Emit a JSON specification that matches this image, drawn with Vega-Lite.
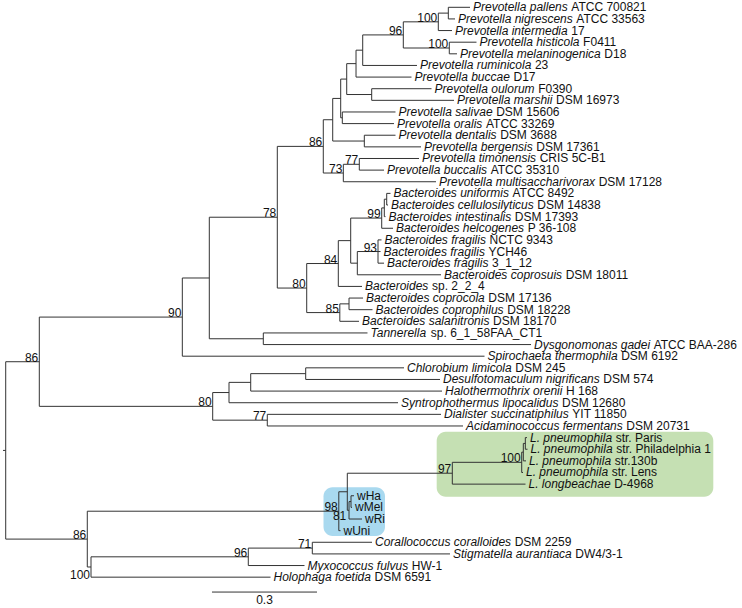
{
  "$schema": "https://vega.github.io/schema/vega-lite/v6.json",
  "width": 742,
  "height": 608,
  "padding": 0,
  "autosize": {"type": "none"},
  "background": "white",
  "config": {"view": {"stroke": null}, "text": {"font": "Liberation Sans"}},
  "datasets": {
    "nodes": [
      {"id": "root", "x": 0, "px": -0.0077, "y": 39.101, "y1": 31.475, "y2": 46.727},
      {"id": "A", "x": 0.096, "px": 0, "y": 31.475, "y1": 27.6375, "y2": 35.3125},
      {"id": "B", "x": 0.5046, "px": 0.096, "y": 27.6375, "y1": 24.275, "y2": 31},
      {"id": "C", "x": 0.5817, "px": 0.5046, "y": 24.275, "y1": 19.05, "y2": 29.5},
      {"id": "D", "x": 0.776, "px": 0.5817, "y": 19.05, "y1": 12.959, "y2": 25.141},
      {"id": "E", "x": 0.9074, "px": 0.776, "y": 12.959, "y1": 10.668, "y2": 15.25},
      {"id": "M", "x": 0.9343, "px": 0.9074, "y": 10.668, "y1": 8.8359, "y2": 12.5},
      {"id": "K", "x": 0.9571, "px": 0.9343, "y": 8.8359, "y1": 7.1719, "y2": 10.5},
      {"id": "I", "x": 0.9743, "px": 0.9571, "y": 7.1719, "y1": 5.8438, "y2": 8.5},
      {"id": "H", "x": 1.0009, "px": 0.9743, "y": 5.8438, "y1": 4.6875, "y2": 7},
      {"id": "G", "x": 1.02, "px": 1.0009, "y": 4.6875, "y1": 3.375, "y2": 6},
      {"id": "N96", "x": 1.136, "px": 1.02, "y": 3.375, "y1": 2.25, "y2": 4.5},
      {"id": "N100a", "x": 1.236, "px": 1.136, "y": 2.25, "y1": 1.5, "y2": 3},
      {"id": "pn", "x": 1.2646, "px": 1.236, "y": 1.5, "y1": 1, "y2": 2},
      {"id": "hm", "x": 1.2674, "px": 1.136, "y": 4.5, "y1": 4, "y2": 5},
      {"id": "J", "x": 1.0457, "px": 0.9743, "y": 8.5, "y1": 8, "y2": 9},
      {"id": "L", "x": 0.9617, "px": 0.9571, "y": 10.5, "y1": 10, "y2": 11},
      {"id": "N", "x": 1.0246, "px": 0.9343, "y": 12.5, "y1": 12, "y2": 13},
      {"id": "O", "x": 0.9646, "px": 0.9074, "y": 15.25, "y1": 14.5, "y2": 16},
      {"id": "N77", "x": 1.0103, "px": 0.9646, "y": 14.5, "y1": 14, "y2": 15},
      {"id": "P", "x": 0.86, "px": 0.776, "y": 25.141, "y1": 23.031, "y2": 27.25},
      {"id": "Q", "x": 0.9503, "px": 0.86, "y": 23.031, "y1": 21.0625, "y2": 25},
      {"id": "R", "x": 0.9857, "px": 0.9503, "y": 21.0625, "y1": 19.125, "y2": 23},
      {"id": "S", "x": 1.0743, "px": 0.9857, "y": 19.125, "y1": 18.25, "y2": 20},
      {"id": "U", "x": 1.0817, "px": 1.0743, "y": 18.25, "y1": 17.5, "y2": 19},
      {"id": "T", "x": 1.0886, "px": 1.0817, "y": 17.5, "y1": 17, "y2": 18},
      {"id": "V", "x": 1.0046, "px": 0.9857, "y": 23, "y1": 22, "y2": 24},
      {"id": "W", "x": 1.0637, "px": 1.0046, "y": 22, "y1": 21, "y2": 23},
      {"id": "Y", "x": 0.9546, "px": 0.86, "y": 27.25, "y1": 26.5, "y2": 28},
      {"id": "Z", "x": 0.9809, "px": 0.9546, "y": 26.5, "y1": 26, "y2": 27},
      {"id": "AA", "x": 0.736, "px": 0.5817, "y": 29.5, "y1": 29, "y2": 30},
      {"id": "BB", "x": 0.5914, "px": 0.096, "y": 35.3125, "y1": 34.125, "y2": 36.5},
      {"id": "CC", "x": 0.638, "px": 0.5914, "y": 34.125, "y1": 33.25, "y2": 35},
      {"id": "EE", "x": 0.7, "px": 0.638, "y": 33.25, "y1": 32.5, "y2": 34},
      {"id": "FF", "x": 0.8571, "px": 0.7, "y": 32.5, "y1": 32, "y2": 33},
      {"id": "DD", "x": 0.7474, "px": 0.5914, "y": 36.5, "y1": 36, "y2": 37},
      {"id": "L86", "x": 0.2331, "px": 0, "y": 46.727, "y1": 44.328, "y2": 49.125},
      {"id": "GG", "x": 0.9517, "px": 0.2331, "y": 44.328, "y1": 42.656, "y2": 46},
      {"id": "HH", "x": 0.976, "px": 0.9517, "y": 42.656, "y1": 41.0625, "y2": 44.25},
      {"id": "KK", "x": 1.276, "px": 0.976, "y": 41.0625, "y1": 40.125, "y2": 42},
      {"id": "LL", "x": 1.4743, "px": 1.276, "y": 40.125, "y1": 39.25, "y2": 41},
      {"id": "QQ", "x": 1.4789, "px": 1.4743, "y": 39.25, "y1": 38.5, "y2": 40},
      {"id": "PP", "x": 1.4846, "px": 1.4789, "y": 38.5, "y1": 38, "y2": 39},
      {"id": "II", "x": 0.9809, "px": 0.976, "y": 44.25, "y1": 43.5, "y2": 45},
      {"id": "JJ", "x": 0.9866, "px": 0.9809, "y": 43.5, "y1": 43, "y2": 44},
      {"id": "MM", "x": 0.2437, "px": 0.2331, "y": 49.125, "y1": 48.25, "y2": 50},
      {"id": "NN", "x": 0.6931, "px": 0.2437, "y": 48.25, "y1": 47.5, "y2": 49},
      {"id": "OO", "x": 0.876, "px": 0.6931, "y": 47.5, "y1": 47, "y2": 48}
    ],
    "leaves": [
      {"y": 1, "x": 1.3266, "px": 1.2646, "name": "Prevotella pallens", "strain": "ATCC 700821"},
      {"y": 2, "x": 1.2837, "px": 1.2646, "name": "Prevotella nigrescens", "strain": "ATCC 33563"},
      {"y": 3, "x": 1.2751, "px": 1.236, "name": "Prevotella intermedia", "strain": "17"},
      {"y": 4, "x": 1.3451, "px": 1.2674, "name": "Prevotella histicola", "strain": "F0411"},
      {"y": 5, "x": 1.2894, "px": 1.2674, "name": "Prevotella melaninogenica", "strain": "D18"},
      {"y": 6, "x": 1.1751, "px": 1.02, "name": "Prevotella ruminicola", "strain": "23"},
      {"y": 7, "x": 1.1594, "px": 1.0009, "name": "Prevotella buccae", "strain": "D17"},
      {"y": 8, "x": 1.2166, "px": 1.0457, "name": "Prevotella oulorum", "strain": "F0390"},
      {"y": 9, "x": 1.2809, "px": 1.0457, "name": "Prevotella marshii", "strain": "DSM 16973"},
      {"y": 10, "x": 1.1137, "px": 0.9617, "name": "Prevotella salivae", "strain": "DSM 15606"},
      {"y": 11, "x": 1.1094, "px": 0.9617, "name": "Prevotella oralis", "strain": "ATCC 33269"},
      {"y": 12, "x": 1.1137, "px": 1.0246, "name": "Prevotella dentalis", "strain": "DSM 3688"},
      {"y": 13, "x": 1.1866, "px": 1.0246, "name": "Prevotella bergensis", "strain": "DSM 17361"},
      {"y": 14, "x": 1.1809, "px": 1.0103, "name": "Prevotella timonensis", "strain": "CRIS 5C-B1"},
      {"y": 15, "x": 1.0809, "px": 1.0103, "name": "Prevotella buccalis", "strain": "ATCC 35310"},
      {"y": 16, "x": 1.2294, "px": 0.9646, "name": "Prevotella multisaccharivorax", "strain": "DSM 17128"},
      {"y": 17, "x": 1.0994, "px": 1.0886, "name": "Bacteroides uniformis", "strain": "ATCC 8492"},
      {"y": 18, "x": 1.0923, "px": 1.0886, "name": "Bacteroides cellulosilyticus", "strain": "DSM 14838"},
      {"y": 19, "x": 1.0851, "px": 1.0817, "name": "Bacteroides intestinalis", "strain": "DSM 17393"},
      {"y": 20, "x": 1.1066, "px": 1.0743, "name": "Bacteroides helcogenes", "strain": "P 36-108"},
      {"y": 21, "x": 1.0737, "px": 1.0637, "name": "Bacteroides fragilis", "strain": "NCTC 9343"},
      {"y": 22, "x": 1.0709, "px": 1.0637, "name": "Bacteroides fragilis", "strain": "YCH46"},
      {"y": 23, "x": 1.0809, "px": 1.0637, "name": "Bacteroides fragilis", "strain": "3_1_12"},
      {"y": 24, "x": 1.2437, "px": 1.0046, "name": "Bacteroides coprosuis", "strain": "DSM 18011"},
      {"y": 25, "x": 1.018, "px": 0.9503, "name": "Bacteroides", "strain": "sp. 2_2_4"},
      {"y": 26, "x": 1.0209, "px": 0.9809, "name": "Bacteroides coprocola", "strain": "DSM 17136"},
      {"y": 27, "x": 1.048, "px": 0.9809, "name": "Bacteroides coprophilus", "strain": "DSM 18228"},
      {"y": 28, "x": 1.0094, "px": 0.9546, "name": "Bacteroides salanitronis", "strain": "DSM 18170"},
      {"y": 29, "x": 1.0337, "px": 0.736, "name": "Tannerella", "strain": "sp. 6_1_58FAA_CT1"},
      {"y": 30, "x": 1.5009, "px": 0.736, "name": "Dysgonomonas gadei", "strain": "ATCC BAA-286"},
      {"y": 31, "x": 1.368, "px": 0.5046, "name": "Spirochaeta thermophila", "strain": "DSM 6192"},
      {"y": 32, "x": 1.138, "px": 0.8571, "name": "Chlorobium limicola", "strain": "DSM 245"},
      {"y": 33, "x": 1.2409, "px": 0.8571, "name": "Desulfotomaculum nigrificans", "strain": "DSM 574"},
      {"y": 34, "x": 1.2466, "px": 0.7, "name": "Halothermothrix orenii", "strain": "H 168"},
      {"y": 35, "x": 1.1209, "px": 0.638, "name": "Syntrophothermus lipocalidus", "strain": "DSM 12680"},
      {"y": 36, "x": 1.2437, "px": 0.7474, "name": "Dialister succinatiphilus", "strain": "YIT 11850"},
      {"y": 37, "x": 1.3066, "px": 0.7474, "name": "Acidaminococcus fermentans", "strain": "DSM 20731"},
      {"y": 38, "x": 1.4894, "px": 1.4846, "name": "L. pneumophila", "strain": "str. Paris"},
      {"y": 39, "x": 1.4909, "px": 1.4846, "name": "L. pneumophila", "strain": "str. Philadelphia 1"},
      {"y": 40, "x": 1.4866, "px": 1.4789, "name": "L. pneumophila", "strain": "str.130b"},
      {"y": 41, "x": 1.478, "px": 1.4743, "name": "L. pneumophila", "strain": "str. Lens"},
      {"y": 42, "x": 1.4851, "px": 1.276, "name": "L. longbeachae", "strain": "D-4968"},
      {"y": 43, "x": 0.9951, "px": 0.9866, "name": "", "strain": "wHa"},
      {"y": 44, "x": 0.9894, "px": 0.9866, "name": "", "strain": "wMel"},
      {"y": 45, "x": 1.018, "px": 0.9809, "name": "", "strain": "wRi"},
      {"y": 46, "x": 0.9566, "px": 0.9517, "name": "", "strain": "wUni"},
      {"y": 47, "x": 1.0466, "px": 0.876, "name": "Corallococcus coralloides", "strain": "DSM 2259"},
      {"y": 48, "x": 1.2694, "px": 0.876, "name": "Stigmatella aurantiaca", "strain": "DW4/3-1"},
      {"y": 49, "x": 0.8537, "px": 0.6931, "name": "Myxococcus fulvus", "strain": "HW-1"},
      {"y": 50, "x": 0.7566, "px": 0.2437, "name": "Holophaga foetida", "strain": "DSM 6591"}
    ],
    "boot": [
      {"x": 0.096, "y": 31.475, "s": "86"},
      {"x": 0.5046, "y": 27.6375, "s": "90"},
      {"x": 0.776, "y": 19.05, "s": "78"},
      {"x": 0.9074, "y": 12.959, "s": "86"},
      {"x": 1.136, "y": 3.375, "s": "96"},
      {"x": 1.236, "y": 2.25, "s": "100"},
      {"x": 1.2674, "y": 4.5, "s": "100"},
      {"x": 1.0103, "y": 14.5, "s": "77"},
      {"x": 0.9646, "y": 15.25, "s": "73"},
      {"x": 0.86, "y": 25.141, "s": "80"},
      {"x": 0.9503, "y": 23.031, "s": "84"},
      {"x": 1.0743, "y": 19.125, "s": "99"},
      {"x": 1.0637, "y": 22, "s": "93"},
      {"x": 0.9546, "y": 27.25, "s": "85"},
      {"x": 0.5914, "y": 35.3125, "s": "80"},
      {"x": 0.7474, "y": 36.5, "s": "77"},
      {"x": 0.2331, "y": 46.727, "s": "86"},
      {"x": 0.9517, "y": 44.328, "s": "98"},
      {"x": 0.976, "y": 45.08, "s": "81"},
      {"x": 1.276, "y": 41.0625, "s": "97"},
      {"x": 1.4743, "y": 40.125, "s": "100"},
      {"x": 0.6931, "y": 48.25, "s": "96"},
      {"x": 0.876, "y": 47.5, "s": "71"},
      {"x": 0.2437, "y": 50.15, "s": "100"}
    ],
    "clades": [
      {"clade": "Legionella", "x1": 1.2314, "x2": 2.0217, "y1": 37.49, "y2": 43.08},
      {"clade": "Wolbachia", "x1": 0.908, "x2": 1.0837, "y1": 42.27, "y2": 46.46}
    ],
    "scalebar": [
      {"x1": 0.5894, "x2": 0.8894, "xm": 0.7394, "y": 51.28, "ly": 51.53, "label": "0.3"}
    ]
  },
  "layer": [
    {
      "data": {"name": "clades"},
      "mark": {"type": "rect", "cornerRadius": 9},
      "encoding": {
        "x": {"field": "x1", "type": "quantitative", "scale": {"domain": [-0.0163, 2.1037], "nice": false, "zero": false}, "axis": null},
        "x2": {"field": "x2"},
        "y": {"field": "y1", "type": "quantitative", "scale": {"domain": [0.3723, 52.651], "reverse": true, "nice": false, "zero": false}, "axis": null},
        "y2": {"field": "y2"},
        "color": {"field": "clade", "type": "nominal", "scale": {"domain": ["Legionella", "Wolbachia"], "range": ["#c5e0b3", "#a9d9ef"]}, "legend": null}
      }
    },
    {
      "data": {"name": "nodes"},
      "mark": {"type": "rule", "color": "#333333", "strokeWidth": 1},
      "encoding": {
        "x": {"field": "px", "type": "quantitative", "scale": {"domain": [-0.0163, 2.1037], "nice": false, "zero": false}, "axis": null},
        "x2": {"field": "x"},
        "y": {"field": "y", "type": "quantitative", "scale": {"domain": [0.3723, 52.651], "reverse": true, "nice": false, "zero": false}, "axis": null}
      }
    },
    {
      "data": {"name": "nodes"},
      "mark": {"type": "rule", "color": "#333333", "strokeWidth": 1},
      "encoding": {
        "x": {"field": "x", "type": "quantitative", "scale": {"domain": [-0.0163, 2.1037], "nice": false, "zero": false}, "axis": null},
        "y": {"field": "y1", "type": "quantitative", "scale": {"domain": [0.3723, 52.651], "reverse": true, "nice": false, "zero": false}, "axis": null},
        "y2": {"field": "y2"}
      }
    },
    {
      "data": {"name": "leaves"},
      "mark": {"type": "rule", "color": "#333333", "strokeWidth": 1},
      "encoding": {
        "x": {"field": "px", "type": "quantitative", "scale": {"domain": [-0.0163, 2.1037], "nice": false, "zero": false}, "axis": null},
        "x2": {"field": "x"},
        "y": {"field": "y", "type": "quantitative", "scale": {"domain": [0.3723, 52.651], "reverse": true, "nice": false, "zero": false}, "axis": null}
      }
    },
    {
      "data": {"name": "leaves"},
      "mark": {"type": "text", "align": "left", "baseline": "middle", "dx": 3, "fontSize": 12, "fontStyle": "italic", "color": "#111111"},
      "encoding": {
        "x": {"field": "x", "type": "quantitative", "scale": {"domain": [-0.0163, 2.1037], "nice": false, "zero": false}, "axis": null},
        "y": {"field": "y", "type": "quantitative", "scale": {"domain": [0.3723, 52.651], "reverse": true, "nice": false, "zero": false}, "axis": null},
        "text": {"field": "name"}
      }
    },
    {
      "data": {"name": "leaves"},
      "mark": {"type": "text", "align": "left", "baseline": "middle", "fontSize": 12, "color": "#111111",
        "dx": {"expr": "datum.name == '' ? 3 : 6.6 + 0.012*(556*length(datum.name) - 334*length(replace(datum.name, regexp('[^ijl]','g'), '')) - 278*length(replace(datum.name, regexp('[^ft .I/]','g'), '')) - 223*length(replace(datum.name, regexp('[^r-]','g'), '')) - 56*length(replace(datum.name, regexp('[^cksvxyzJ]','g'), '')) + 277*length(replace(datum.name, regexp('[^mM]','g'), '')) + 166*length(replace(datum.name, regexp('[^wCDHNRU]','g'), '')) + 111*length(replace(datum.name, regexp('[^ABEKPSVXY]','g'), '')) + 222*length(replace(datum.name, regexp('[^GOQ]','g'), '')) + 55*length(replace(datum.name, regexp('[^FTZ]','g'), '')) + 388*length(replace(datum.name, regexp('[^W]','g'), '')))"}},
      "encoding": {
        "x": {"field": "x", "type": "quantitative", "scale": {"domain": [-0.0163, 2.1037], "nice": false, "zero": false}, "axis": null},
        "y": {"field": "y", "type": "quantitative", "scale": {"domain": [0.3723, 52.651], "reverse": true, "nice": false, "zero": false}, "axis": null},
        "text": {"field": "strain"}
      }
    },
    {
      "data": {"name": "boot"},
      "mark": {"type": "text", "align": "right", "baseline": "alphabetic", "dx": -1, "dy": 0, "fontSize": 12, "color": "#111111"},
      "encoding": {
        "x": {"field": "x", "type": "quantitative", "scale": {"domain": [-0.0163, 2.1037], "nice": false, "zero": false}, "axis": null},
        "y": {"field": "y", "type": "quantitative", "scale": {"domain": [0.3723, 52.651], "reverse": true, "nice": false, "zero": false}, "axis": null},
        "text": {"field": "s"}
      }
    },
    {
      "data": {"name": "scalebar"},
      "mark": {"type": "rule", "color": "#333333", "strokeWidth": 1},
      "encoding": {
        "x": {"field": "x1", "type": "quantitative", "scale": {"domain": [-0.0163, 2.1037], "nice": false, "zero": false}, "axis": null},
        "x2": {"field": "x2"},
        "y": {"field": "y", "type": "quantitative", "scale": {"domain": [0.3723, 52.651], "reverse": true, "nice": false, "zero": false}, "axis": null}
      }
    },
    {
      "data": {"name": "scalebar"},
      "mark": {"type": "text", "align": "center", "baseline": "top", "fontSize": 12, "color": "#111111"},
      "encoding": {
        "x": {"field": "xm", "type": "quantitative", "scale": {"domain": [-0.0163, 2.1037], "nice": false, "zero": false}, "axis": null},
        "y": {"field": "ly", "type": "quantitative", "scale": {"domain": [0.3723, 52.651], "reverse": true, "nice": false, "zero": false}, "axis": null},
        "text": {"field": "label"}
      }
    }
  ]
}
